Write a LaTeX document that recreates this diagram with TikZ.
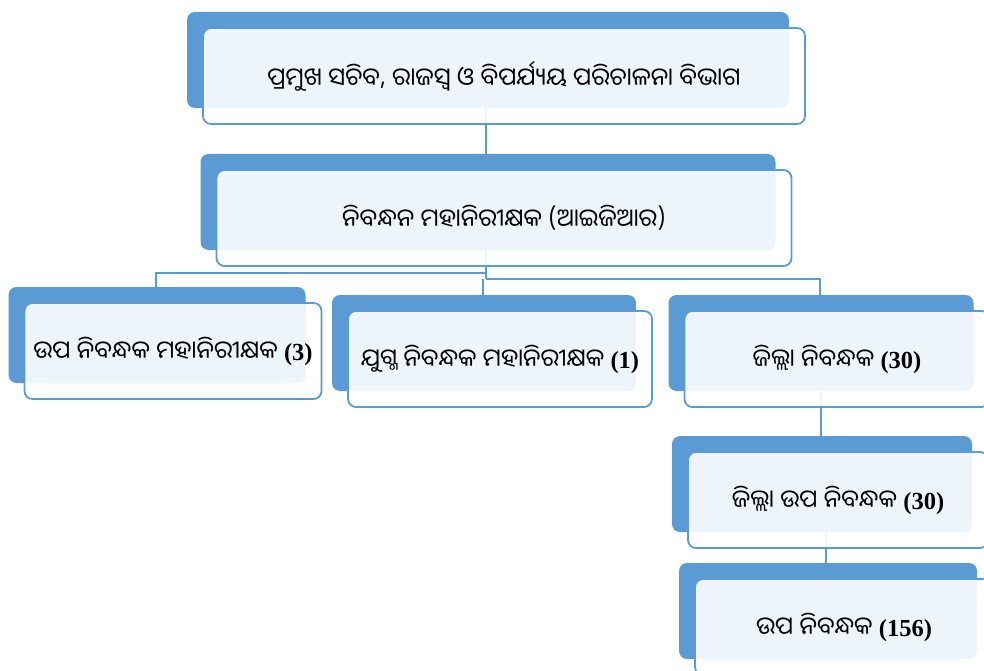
\documentclass[tikz,border=0pt]{standalone}
\usepackage{fontspec}
\setmainfont{Noto Sans Oriya UI}[Script=Oriya]
\newfontfamily\numfont{Liberation Serif}
\usetikzlibrary{shadows,backgrounds}
\definecolor{boxblue}{HTML}{5B9BD5}

\begin{document}
\begin{tikzpicture}[
		x=1pt, y=-1pt,
		office/.style={rectangle, rounded corners=8pt, draw=boxblue, line width=1.8pt,
				fill=white, fill opacity=0.9, text opacity=1,
				minimum height=96pt, inner sep=0pt,
				font=\fontsize{24.5}{28}\selectfont,
				copy shadow={shadow xshift=-16pt, shadow yshift=16pt, fill=boxblue,
						fill opacity=1, draw=none}},
		conn/.style={draw=boxblue, line width=2pt}
	]
	\useasboundingbox (0,0) rectangle (984,671);

	\node[office, minimum width=602pt] (psec) at (504,76) {ପ୍ରମୁଖ ସଚିବ, ରାଜସ୍ୱ ଓ ବିପର୍ଯ୍ୟୟ ପରିଚାଳନା ବିଭାଗ};
	\node[office, minimum width=575pt] (igr) at (504,218) {ନିବନ୍ଧନ ମହାନିରୀକ୍ଷକ (ଆଇଜିଆର)};
	\node[office, minimum width=297pt] (digr) at (173,351) {ଉପ ନିବନ୍ଧକ ମହାନିରୀକ୍ଷକ {\numfont\bfseries (3)}};
	\node[office, minimum width=304pt] (jigr) at (500,359) {ଯୁଗ୍ମ ନିବନ୍ଧକ ମହାନିରୀକ୍ଷକ {\numfont\bfseries (1)}};
	\node[office, minimum width=305pt] (dr) at (837,359) {ଜିଲ୍ଲା ନିବନ୍ଧକ {\numfont\bfseries (30)}};
	\node[office, minimum width=300pt] (dsr) at (838,500) {ଜିଲ୍ଲା ଉପ ନିବନ୍ଧକ {\numfont\bfseries (30)}};
	\node[office, minimum width=298pt] (sr) at (844,627) {ଉପ ନିବନ୍ଧକ {\numfont\bfseries (156)}};

	% connectors behind the boxes
	\coordinate (j1) at (486,273);
	\coordinate (j2) at (483,279);
	\coordinate (k3) at (156,273);
	\coordinate (k5) at (820,279);
	\coordinate (k6) at (821,420);
	\coordinate (k7) at (826,550);
	\begin{scope}[on background layer]
		\draw[conn] (psec.center -| j1) -- (igr.center -| j1);
		\draw[conn] (igr.center -| j1) -- (j1 |- j2);
		\draw[conn] (j1) -- (k3) -- (k3 |- digr.center);
		\draw[conn] (j1 |- j2) -- (k5) -- (k5 |- dr.center);
		\draw[conn] (j2) -- (j2 |- jigr.center);
		\draw[conn] (dr.center -| k6) -- (dsr.center -| k6);
		\draw[conn] (dsr.center -| k7) -- (sr.center -| k7);
	\end{scope}
\end{tikzpicture}
\end{document}
